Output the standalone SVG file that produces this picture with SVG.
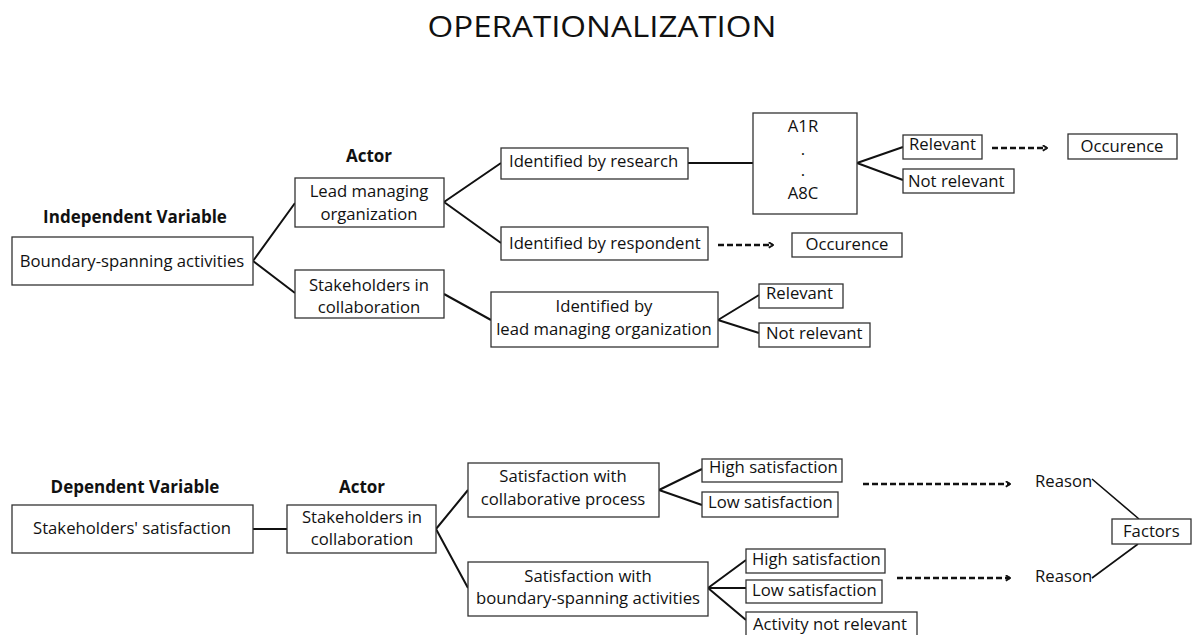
<svg xmlns="http://www.w3.org/2000/svg" width="1192" height="635" viewBox="0 0 1192 635">
<defs>
<style>
text{font-family:"Open Sans","Noto Sans","Liberation Sans",sans-serif;fill:#111;}
.t{font-size:16.7px;}
.c{text-anchor:middle;}
.h{font-size:17px;font-weight:bold;text-anchor:middle;}
.title{font-size:29px;text-anchor:middle;}
.box{fill:#fff;stroke:#333;stroke-width:1.3;}
.ln{stroke:#111;stroke-width:2;fill:none;}
.dash{stroke:#111;stroke-width:2.4;fill:none;stroke-dasharray:6 3;}
</style>
<marker id="arr" viewBox="0 0 10 10" refX="8" refY="5" markerWidth="7" markerHeight="7" orient="auto" markerUnits="userSpaceOnUse">
<path d="M2,1 L8,5 L2,9" fill="none" stroke="#111" stroke-width="2.6"/>
</marker>
</defs>
<rect width="1192" height="635" fill="#fff"/>
<text class="title" x="602" y="37" textLength="349" lengthAdjust="spacingAndGlyphs">OPERATIONALIZATION</text>

<g id="labels">
<text class="h" x="135" y="223">Independent Variable</text>
<text class="h" x="369" y="162">Actor</text>
<text class="h" x="135" y="493">Dependent Variable</text>
<text class="h" x="362" y="493">Actor</text>
</g>

<g id="connectors">
<path class="ln" d="M253,261 L295,203 M253,261 L295,293"/>
<path class="ln" d="M444,202 L501,163 M444,202 L501,243"/>
<path class="ln" d="M688,163 L753,163"/>
<path class="ln" d="M857,163 L903,147 M857,163 L903,180"/>
<path class="ln" d="M444,294 L491,320"/>
<path class="ln" d="M718,320 L759,295 M718,320 L759,333"/>
<path class="dash" d="M992,148 L1047,148" marker-end="url(#arr)"/>
<path class="dash" d="M718,245 L773,245" marker-end="url(#arr)"/>
<path class="ln" d="M253,529 L287,529"/>
<path class="ln" d="M436,529 L468,490 M436,529 L468,588"/>
<path class="ln" d="M659,490 L702,469 M659,490 L702,505"/>
<path class="ln" d="M708,588 L746,560 M708,588 L746,588 M708,588 L746,620"/>
<path class="dash" d="M863,484 L1010,484" marker-end="url(#arr)"/>
<path class="dash" d="M897,578 L1010,578" marker-end="url(#arr)"/>
<path class="ln" style="stroke-width:1.6" d="M1092,479 L1139,519 M1092,578 L1138,544"/>
</g>

<g id="n-boundary"><rect class="box" x="12" y="237" width="241" height="48"/><text class="t c" x="132" y="267">Boundary-spanning activities</text></g>
<g id="n-lead"><rect class="box" x="295" y="178" width="149" height="49"/><text class="t c" x="369" y="197">Lead managing</text><text class="t c" x="369" y="220">organization</text></g>
<g id="n-stake1"><rect class="box" x="295" y="270" width="149" height="48"/><text class="t c" x="369" y="291">Stakeholders in</text><text class="t c" x="369" y="313">collaboration</text></g>
<g id="n-research"><rect class="box" x="501" y="148" width="187" height="31"/><text class="t" x="509" y="167">Identified by research</text></g>
<g id="n-respondent"><rect class="box" x="501" y="227" width="207" height="33"/><text class="t" x="509" y="249">Identified by respondent</text></g>
<g id="n-a1r"><rect class="box" x="753" y="113" width="104" height="101"/><text class="t c" x="803" y="132">A1R</text><text class="t c" x="803" y="155">.</text><text class="t c" x="803" y="176">.</text><text class="t c" x="803" y="199">A8C</text></g>
<g id="n-rel1"><rect class="box" x="903" y="135" width="79" height="24"/><text class="t" x="909" y="150">Relevant</text></g>
<g id="n-notrel1"><rect class="box" x="903" y="169" width="111" height="24"/><text class="t" x="908" y="187">Not relevant</text></g>
<g id="n-occ1"><rect class="box" x="1068" y="134" width="109" height="25"/><text class="t c" x="1122" y="152">Occurence</text></g>
<g id="n-occ2"><rect class="box" x="792" y="233" width="110" height="24"/><text class="t c" x="847" y="250">Occurence</text></g>
<g id="n-leadid"><rect class="box" x="491" y="292" width="227" height="55"/><text class="t c" x="604" y="312">Identified by</text><text class="t c" x="604" y="335">lead managing organization</text></g>
<g id="n-rel2"><rect class="box" x="759" y="284" width="84" height="24"/><text class="t" x="766" y="299">Relevant</text></g>
<g id="n-notrel2"><rect class="box" x="759" y="323" width="111" height="24"/><text class="t" x="766" y="339">Not relevant</text></g>

<g id="n-satisf"><rect class="box" x="12" y="505" width="241" height="48"/><text class="t c" x="132" y="534">Stakeholders' satisfaction</text></g>
<g id="n-stake2"><rect class="box" x="287" y="505" width="149" height="48"/><text class="t c" x="362" y="523">Stakeholders in</text><text class="t c" x="362" y="545">collaboration</text></g>
<g id="n-collab"><rect class="box" x="468" y="463" width="191" height="54"/><text class="t c" x="563" y="482">Satisfaction with</text><text class="t c" x="563" y="505">collaborative process</text></g>
<g id="n-high1"><rect class="box" x="702" y="459" width="140" height="23"/><text class="t" x="709" y="473">High satisfaction</text></g>
<g id="n-low1"><rect class="box" x="702" y="492" width="136" height="25"/><text class="t" x="708" y="508">Low satisfaction</text></g>
<g id="n-bsa"><rect class="box" x="468" y="562" width="240" height="54"/><text class="t c" x="588" y="582">Satisfaction with</text><text class="t c" x="588" y="604">boundary-spanning activities</text></g>
<g id="n-high2"><rect class="box" x="746" y="549" width="139" height="24"/><text class="t" x="752" y="565">High satisfaction</text></g>
<g id="n-low2"><rect class="box" x="746" y="580" width="136" height="23"/><text class="t" x="752" y="596">Low satisfaction</text></g>
<g id="n-notrel3"><rect class="box" x="746" y="612" width="171" height="30"/><text class="t" x="753" y="630">Activity not relevant</text></g>
<g id="n-reason1"><text class="t" x="1035" y="487">Reason</text></g>
<g id="n-reason2"><text class="t" x="1035" y="582">Reason</text></g>
<g id="n-factors"><rect class="box" x="1112" y="519" width="79" height="25"/><text class="t" x="1123" y="537">Factors</text></g>
</svg>
